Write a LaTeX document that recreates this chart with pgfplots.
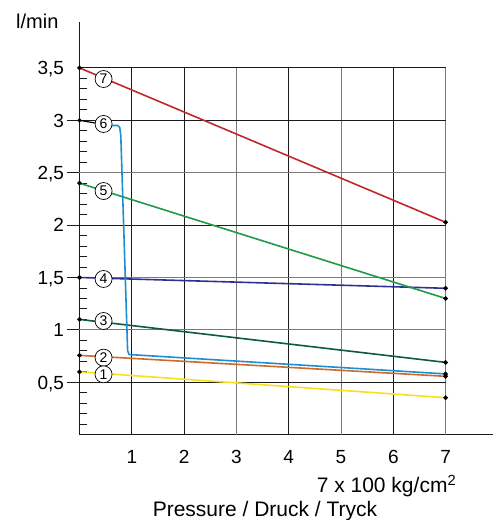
\documentclass[border=0pt]{standalone}
\usepackage{fontspec}
\setmainfont{Liberation Sans}
\usepackage{pgfplots}
\pgfplotsset{compat=1.18}

\definecolor{gridblk}{HTML}{1A1A1A}
\definecolor{gridgry}{HTML}{7A7A7A}
\definecolor{c7}{HTML}{C1272D}
\definecolor{c6}{HTML}{1B8FD2}
\definecolor{c5}{HTML}{1F9A48}
\definecolor{c4}{HTML}{2E3192}
\definecolor{c3}{HTML}{0C5C3A}
\definecolor{c2}{HTML}{D06A28}
\definecolor{c1}{HTML}{F7E11A}

\begin{document}
\begin{tikzpicture}
\begin{axis}[
    x=52.3pt, y=104.8pt,
    xmin=0, xmax=7.9, ymin=0, ymax=3.94,
    clip=false,
    axis x line=bottom, axis y line=left,
    axis line style={-, line width=0.9pt, color=gridblk},
    /pgf/number format/assume math mode=true,
    /pgf/number format/use comma,
    xtick={1,2,3,4,5,6,7},
    x tick style={draw=none},
    ytick={0.5,1,1.5,2,2.5,3},
    extra y ticks={3.5},
    extra y tick style={y tick style={draw=none}},
    minor ytick={0.1,0.2,0.3,0.4,0.6,0.7,0.8,0.9,1.1,1.2,1.3,1.4,1.6,1.7,1.8,1.9,2.1,2.2,2.3,2.4,2.6,2.7,2.8,2.9,3.1,3.2,3.3,3.4},
    tick align=outside,
    major tick length=12pt,
    minor tick length=-8pt,
    y tick style={line width=0.9pt, color=gridblk},
    tick label style={font=\fontsize{19}{22}\selectfont},
    xticklabel style={anchor=base, yshift=-16.6pt},
    yticklabel style={anchor=base east, yshift=-6.8pt},
]
% grid
\addplot[gridblk, line width=0.9pt] coordinates {(1,0) (1,3.5)};
\addplot[gridblk, line width=0.9pt] coordinates {(2,0) (2,3.5)};
\addplot[gridgry, line width=0.9pt] coordinates {(3,0) (3,3.5)};
\addplot[gridblk, line width=0.9pt] coordinates {(4,0) (4,3.5)};
\addplot[gridgry, line width=0.9pt] coordinates {(5,0) (5,3.5)};
\addplot[gridblk, line width=0.9pt] coordinates {(6,0) (6,3.5)};
\addplot[gridgry, line width=0.9pt] coordinates {(7,0) (7,3.5)};
\addplot[gridblk, line width=0.9pt] coordinates {(0,0.5) (7,0.5)};
\addplot[gridgry, line width=0.9pt] coordinates {(0,1) (7,1)};
\addplot[gridgry, line width=0.9pt] coordinates {(0,1.5) (7,1.5)};
\addplot[gridblk, line width=0.9pt] coordinates {(0,2) (7,2)};
\addplot[gridgry, line width=0.9pt] coordinates {(0,2.5) (7,2.5)};
\addplot[gridblk, line width=0.9pt] coordinates {(0,3) (7,3)};
\addplot[gridblk, line width=0.9pt] coordinates {(0,3.5) (7,3.5)};

% curves
\pgfplotsset{crv/.style={line width=1.6pt, mark=*, mark size=1.4pt, mark options={fill=black, draw=black, solid}}}
\addplot[crv, c1] coordinates {(0,0.60) (7,0.353)};
\addplot[crv, c2] coordinates {(0,0.757) (7,0.557)};
\addplot[crv, c3] coordinates {(0,1.10) (7,0.69)};
\addplot[crv, c4] coordinates {(0,1.50) (7,1.397)};
\addplot[crv, c5] coordinates {(0,2.40) (7,1.30)};
\addplot[line width=1.2pt, black, mark=*, mark size=1.4pt, mark indices={1}] coordinates {(0,3.0) (0.46,2.96)};
\addplot[line width=1.6pt, c6, mark=*, mark size=1.4pt, mark indices={7}, mark options={fill=black, draw=black}]
    coordinates {(0.46,2.95) (0.73,2.95) (0.77,2.93) (0.79,2.85) (0.92,0.80) (0.95,0.765) (7,0.58)};
\addplot[crv, c7] coordinates {(0,3.50) (7,2.027)};

% numbered circles
\addplot[only marks, mark=none, nodes near coords, point meta=explicit symbolic,
    nodes near coords style={circle, draw=black, line width=0.7pt, fill=white, inner sep=0pt,
        minimum size=17pt, anchor=center, font=\fontsize{14}{16}\selectfont, text=black}]
    table[meta=lab] {
x y lab
0.46 3.394 7
0.46 2.965 6
0.46 2.325 5
0.46 1.486 4
0.46 1.085 3
0.46 0.735 2
0.46 0.576 1
};
\end{axis}
\node[anchor=base west, font=\fontsize{20}{24}\selectfont] at (-66.8pt,406.4pt) {l/min};
\node[anchor=base, font=\fontsize{21}{25}\selectfont] at (307pt,-58pt) {7 x 100 kg/cm\textsuperscript{2}};
\node[anchor=base, font=\fontsize{21}{25}\selectfont] at (185.5pt,-82pt) {Pressure / Druck / Tryck};
\pgfresetboundingbox
\path (-79.5pt,-85.3pt) rectangle (416.5pt,434.7pt);
\end{tikzpicture}
\end{document}
